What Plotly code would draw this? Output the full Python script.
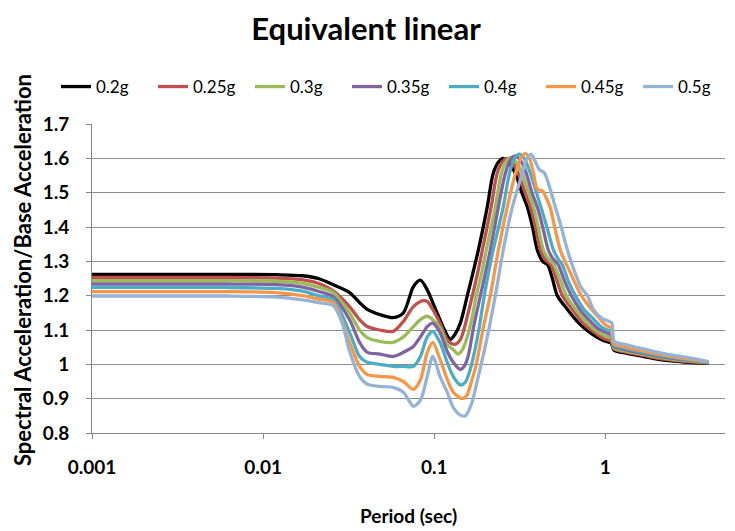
import plotly.graph_objects as go

# ---- data (period in sec, Sa/base acceleration) ----
series_names = ["0.2g", "0.25g", "0.3g", "0.35g", "0.4g", "0.45g", "0.5g"]
series_colors = ["#000000", "#C0504D", "#9BBB59", "#8064A2", "#4BACC6", "#F79646", "#95B3D7"]

t_02 = [0.001, 0.006, 0.012, 0.017, 0.021, 0.0257, 0.032, 0.0366, 0.0406, 0.048, 0.0575, 0.066, 0.0755, 0.083, 0.091,
        0.098, 0.108, 0.116, 0.124, 0.132, 0.142, 0.156, 0.168, 0.181, 0.204, 0.221, 0.238, 0.253, 0.27, 0.298,
        0.325, 0.35, 0.375, 0.40, 0.43, 0.46, 0.49, 0.524, 0.6, 0.7, 0.8, 0.9, 1.0, 1.08, 1.12, 1.3, 1.7, 2.2, 3.0, 4.0]
v_02 = [1.262, 1.262, 1.261, 1.258, 1.25, 1.232, 1.209, 1.18, 1.16, 1.145, 1.136, 1.15, 1.226, 1.245, 1.217,
        1.18, 1.13, 1.095, 1.073, 1.087, 1.12, 1.20, 1.265, 1.333, 1.458, 1.556, 1.59, 1.60, 1.59, 1.556,
        1.50, 1.458, 1.40, 1.333, 1.30, 1.29, 1.25, 1.20, 1.16, 1.12, 1.095, 1.078, 1.067, 1.062, 1.042, 1.033, 1.022, 1.012, 1.006, 1.003]

t_025 = [0.001, 0.006, 0.012, 0.017, 0.021, 0.0257, 0.032, 0.0366, 0.0406, 0.048, 0.0575, 0.066, 0.0755, 0.085, 0.091,
         0.098, 0.108, 0.119, 0.131, 0.142, 0.157, 0.167, 0.18, 0.191, 0.215, 0.233, 0.25, 0.267, 0.285, 0.31,
         0.34, 0.365, 0.39, 0.417, 0.445, 0.48, 0.52, 0.561, 0.64, 0.74, 0.84, 0.94, 1.0, 1.08, 1.12, 1.3, 1.7, 2.2, 3.0, 4.0]
v_025 = [1.253, 1.253, 1.251, 1.246, 1.236, 1.214, 1.168, 1.13, 1.11, 1.10, 1.096, 1.125, 1.168, 1.185, 1.183,
         1.16, 1.12, 1.072, 1.058, 1.072, 1.145, 1.20, 1.27, 1.333, 1.458, 1.556, 1.59, 1.60, 1.59, 1.556,
         1.50, 1.458, 1.40, 1.333, 1.305, 1.29, 1.245, 1.20, 1.16, 1.12, 1.097, 1.08, 1.073, 1.068, 1.045, 1.036, 1.025, 1.015, 1.008, 1.004]

t_03 = [0.001, 0.006, 0.012, 0.017, 0.021, 0.0257, 0.032, 0.0366, 0.0406, 0.048, 0.0575, 0.066, 0.0755, 0.083, 0.091,
        0.098, 0.108, 0.119, 0.129, 0.138, 0.147, 0.157, 0.167, 0.176, 0.19, 0.2015, 0.2275, 0.2465, 0.265, 0.281,
        0.3, 0.327, 0.355, 0.38, 0.405, 0.434, 0.46, 0.5, 0.55, 0.592, 0.67, 0.77, 0.87, 0.97, 1.08, 1.12, 1.3, 1.7, 2.2, 3.0, 4.0]
v_03 = [1.244, 1.244, 1.242, 1.236, 1.225, 1.209, 1.15, 1.10, 1.078, 1.067, 1.064, 1.08, 1.11, 1.13, 1.14,
        1.13, 1.107, 1.058, 1.043, 1.03, 1.045, 1.085, 1.14, 1.20, 1.27, 1.333, 1.458, 1.556, 1.593, 1.603,
        1.59, 1.556, 1.50, 1.458, 1.40, 1.333, 1.31, 1.29, 1.24, 1.20, 1.16, 1.125, 1.10, 1.085, 1.075, 1.048, 1.039, 1.028, 1.018, 1.01, 1.005]

t_035 = [0.001, 0.006, 0.012, 0.017, 0.021, 0.0257, 0.032, 0.0366, 0.0406, 0.048, 0.0575, 0.066, 0.0755, 0.083, 0.091,
         0.098, 0.108, 0.119, 0.129, 0.142, 0.15, 0.158, 0.17, 0.186, 0.2, 0.2125, 0.237, 0.26, 0.28, 0.298,
         0.318, 0.345, 0.372, 0.40, 0.43, 0.464, 0.49, 0.53, 0.58, 0.633, 0.71, 0.8, 0.9, 1.0, 1.08, 1.12, 1.3, 1.7, 2.2, 3.0, 4.0]
v_035 = [1.234, 1.234, 1.232, 1.225, 1.213, 1.197, 1.13, 1.064, 1.035, 1.03, 1.023, 1.035, 1.052, 1.08, 1.11,
         1.12, 1.093, 1.038, 1.006, 0.985, 0.995, 1.025, 1.11, 1.20, 1.27, 1.333, 1.458, 1.556, 1.597, 1.607,
         1.595, 1.556, 1.50, 1.458, 1.40, 1.333, 1.31, 1.29, 1.24, 1.20, 1.16, 1.13, 1.105, 1.093, 1.085, 1.052, 1.043, 1.031, 1.021, 1.012, 1.006]

t_04 = [0.001, 0.006, 0.012, 0.017, 0.021, 0.0257, 0.032, 0.0366, 0.0406, 0.048, 0.0575, 0.066, 0.0755, 0.083, 0.091,
        0.098, 0.108, 0.119, 0.129, 0.142, 0.152, 0.16, 0.169, 0.182, 0.196, 0.208, 0.221, 0.253, 0.275, 0.295,
        0.314, 0.335, 0.365, 0.39, 0.42, 0.455, 0.497, 0.525, 0.56, 0.61, 0.668, 0.75, 0.84, 0.94, 1.0, 1.08, 1.12, 1.3, 1.7, 2.2, 3.0, 4.0]
v_04 = [1.224, 1.224, 1.221, 1.213, 1.2, 1.188, 1.093, 1.023, 1.006, 1.0, 0.994, 0.994, 0.994, 1.023, 1.08,
        1.096, 1.064, 1.006, 0.965, 0.94, 0.948, 0.975, 1.02, 1.10, 1.20, 1.27, 1.333, 1.458, 1.556, 1.60,
        1.612, 1.60, 1.556, 1.51, 1.458, 1.40, 1.333, 1.31, 1.29, 1.24, 1.20, 1.16, 1.135, 1.11, 1.102, 1.095, 1.056, 1.047, 1.034, 1.024, 1.014, 1.006]

t_045 = [0.001, 0.006, 0.012, 0.017, 0.021, 0.0257, 0.032, 0.0366, 0.0406, 0.048, 0.0575, 0.066, 0.0755, 0.083, 0.091,
         0.098, 0.108, 0.119, 0.129, 0.146, 0.155, 0.165, 0.176, 0.194, 0.2125, 0.237, 0.267, 0.298, 0.32, 0.34,
         0.36, 0.38, 0.40, 0.43, 0.455, 0.475, 0.505, 0.545, 0.58, 0.62, 0.66, 0.724, 0.8, 0.9, 1.0, 1.08, 1.12, 1.3, 1.7, 2.2, 3.0, 4.0]
v_045 = [1.212, 1.212, 1.209, 1.2, 1.19, 1.18, 1.064, 0.994, 0.97, 0.965, 0.962, 0.95, 0.927, 0.955, 1.035,
         1.064, 1.015, 0.957, 0.919, 0.90, 0.91, 0.95, 1.0, 1.11, 1.20, 1.333, 1.458, 1.556, 1.60, 1.614,
         1.60, 1.556, 1.51, 1.505, 1.48, 1.458, 1.40, 1.333, 1.30, 1.27, 1.24, 1.20, 1.17, 1.14, 1.115, 1.105, 1.06, 1.051, 1.038, 1.027, 1.016, 1.007]

t_05 = [0.001, 0.006, 0.012, 0.017, 0.021, 0.0257, 0.029, 0.032, 0.0366, 0.0406, 0.048, 0.0575, 0.066, 0.0755, 0.083,
        0.091, 0.098, 0.108, 0.119, 0.129, 0.142, 0.152, 0.165, 0.178, 0.194, 0.21, 0.2275, 0.253, 0.286, 0.327,
        0.345, 0.368, 0.39, 0.41, 0.44, 0.478, 0.51, 0.545, 0.6, 0.65, 0.72, 0.785, 0.85, 0.95, 1.05, 1.09, 1.13, 1.3, 1.7, 2.2, 3.0, 4.0]
v_05 = [1.199, 1.199, 1.196, 1.188, 1.18, 1.171, 1.12, 1.038, 0.965, 0.942, 0.936, 0.933, 0.919, 0.878, 0.895,
        0.965, 1.023, 0.965, 0.919, 0.875, 0.852, 0.85, 0.885, 0.95, 1.03, 1.11, 1.20, 1.333, 1.458, 1.556,
        1.595, 1.612, 1.59, 1.568, 1.557, 1.507, 1.458, 1.41, 1.333, 1.28, 1.225, 1.20, 1.16, 1.135, 1.125, 1.12, 1.066, 1.058, 1.044, 1.031, 1.02, 1.008]

periods = [t_02, t_025, t_03, t_035, t_04, t_045, t_05]
values = [v_02, v_025, v_03, v_035, v_04, v_045, v_05]

x_tick_vals = [0.001, 0.01, 0.1, 1]
x_tick_text = ["0.001", "0.01", "0.1", "1"]
y_tick_vals = [0.8, 0.9, 1.0, 1.1, 1.2, 1.3, 1.4, 1.5, 1.6, 1.7]
y_tick_text = ["0.8", "0.9", "1", "1.1", "1.2", "1.3", "1.4", "1.5", "1.6", "1.7"]

FONT = "Lato, 'Open Sans', sans-serif"

fig = go.Figure()
for name, col, tx, vy in zip(series_names, series_colors, periods, values):
    assert len(tx) == len(vy), name
    fig.add_trace(go.Scatter(
        x=tx, y=vy, name=name, mode="lines",
        line=dict(color=col, width=3.3, shape="spline", smoothing=0.8),
    ))

W, H = 735, 531
L, R, T, B = 92, 10, 124, 98
pw = W - L - R
ph = H - T - B

fig.update_layout(
    width=W, height=H,
    margin=dict(l=L, r=R, t=T, b=B),
    paper_bgcolor="white", plot_bgcolor="white",
    font=dict(family=FONT, color="#000000"),
    title=dict(text="Equivalent linear", x=366 / W, xanchor="center",
               y=1 - 29 / H, yanchor="middle",
               font=dict(family=FONT, size=31, weight="bold", color="#000000")),
    showlegend=True,
    legend=dict(orientation="h", x=(77 - L) / pw, xanchor="left",
                y=1 + (T - 87) / ph, yanchor="middle",
                entrywidth=52, entrywidthmode="pixels",
                font=dict(family=FONT, size=17, color="#000000"),
                bgcolor="rgba(0,0,0,0)", traceorder="normal"),
    xaxis=dict(type="log", range=[-3, 0.699], tickvals=x_tick_vals, ticktext=x_tick_text,
               showgrid=False, zeroline=False, showline=True, linecolor="#868686", linewidth=1,
               ticks="outside", ticklen=5, tickcolor="#868686",
               ticklabelstandoff=12,
               tickfont=dict(family=FONT, size=19, weight="bold", color="#000000")),
    yaxis=dict(range=[0.8, 1.7], tickvals=y_tick_vals, ticktext=y_tick_text,
               showgrid=True, gridcolor="#8c8c8c", gridwidth=1, zeroline=False,
               showline=True, linecolor="#868686", linewidth=1,
               ticks="outside", ticklen=5, tickcolor="#868686",
               ticklabelstandoff=13,
               tickfont=dict(family=FONT, size=19, weight="bold", color="#000000")),
    annotations=[
        dict(text="Spectral Acceleration/Base Acceleration", textangle=-90,
             xref="paper", yref="paper", x=(22 - L) / pw, y=(H - B - 270) / ph,
             xanchor="center", yanchor="middle", showarrow=False,
             font=dict(family=FONT, size=22, weight="bold", color="#000000")),
        dict(text="Period (sec)", xref="paper", yref="paper",
             x=(408 - L) / pw, y=-(515 - (H - B)) / ph,
             xanchor="center", yanchor="middle", showarrow=False,
             font=dict(family=FONT, size=19, weight="bold", color="#000000")),
    ],
)

fig.write_html("out.html")
